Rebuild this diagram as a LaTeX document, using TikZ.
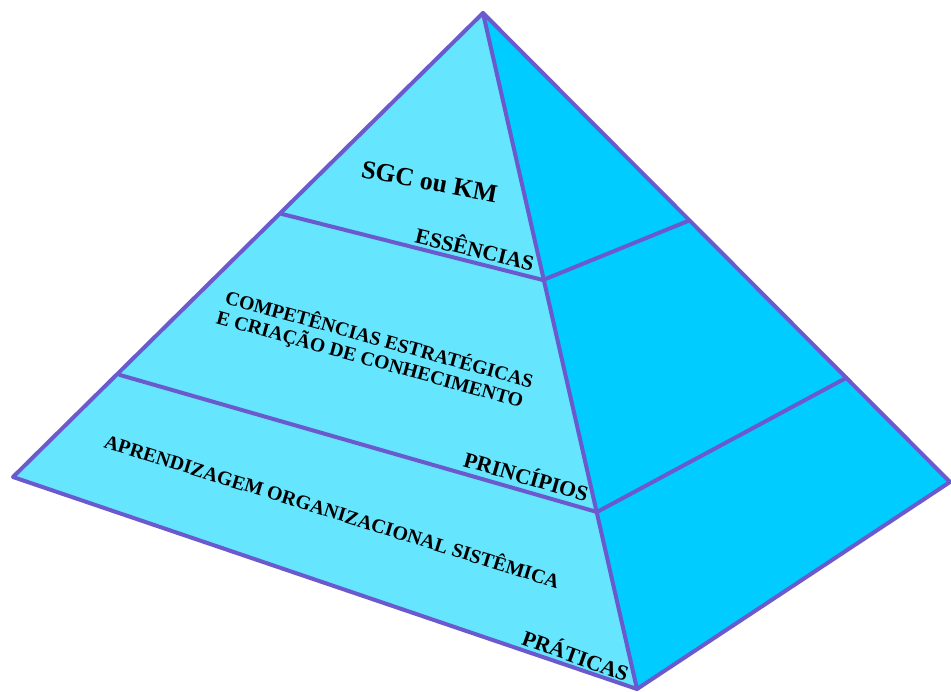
\documentclass[tikz,border=0pt]{standalone}
\usepackage{fontspec}
\setmainfont{Liberation Serif}
\begin{document}
\definecolor{faceL}{RGB}{102,229,255}
\definecolor{faceR}{RGB}{0,204,255}
\definecolor{edge}{RGB}{106,90,205}
\begin{tikzpicture}[x=0.02cm,y=-0.02cm,
  edgeline/.style={draw=edge,line width=0.08cm,line join=round,line cap=round},
  lbl/.style={font=\bfseries,inner sep=0pt,anchor=base}]
\useasboundingbox (0,0) rectangle (951,691);
% corners of the pyramid
\coordinate (apex) at (483,13);
\coordinate (left) at (13,477);
\coordinate (front) at (637,689);
\coordinate (right) at (950,482);
% level divisions
\coordinate (l1) at (282,214);
\coordinate (f1) at (543,280);
\coordinate (r1) at (688,221);
\coordinate (l2) at (120,375);
\coordinate (f2) at (597,512);
\coordinate (r2) at (846,378);
% faces
\fill[faceL] (apex) -- (left) -- (front) -- cycle;
\fill[faceR] (apex) -- (front) -- (right) -- cycle;
% level lines
\draw[edgeline] (l1) -- (f1) -- (r1);
\draw[edgeline] (l2) -- (f2) -- (r2);
% outline
\draw[edgeline] (apex) -- (left) -- (front) -- (right) -- cycle;
\draw[edgeline] (apex) -- (front);
% labels
\node[lbl,font=\bfseries\fontsize{14.7}{16}\selectfont,rotate=-10.6] (sgc) at (428,190) {SGC ou KM};
\node[lbl,font=\bfseries\fontsize{12.4}{14}\selectfont,rotate=-13.5] (ess) at (473,257) {ESSÊNCIAS};
\node[lbl,font=\bfseries\fontsize{11.2}{12.3}\selectfont,rotate=-15.5,align=left,anchor=base west] (comp) at (218,324)
  {COMPETÊNCIAS ESTRATÉGICAS\\\hspace*{-1.7pt}E CRIAÇÃO DE CONHECIMENTO};
\node[lbl,font=\bfseries\fontsize{12.4}{14}\selectfont,rotate=-16] (prin) at (524,484) {PRINCÍPIOS};
\node[lbl,font=\bfseries\fontsize{11.3}{13}\selectfont,rotate=-17.3] (apren) at (330,518) {APRENDIZAGEM ORGANIZACIONAL SISTÊMICA};
\node[lbl,font=\bfseries\fontsize{12.4}{14}\selectfont,rotate=-19.8] (prat) at (573,663) {PRÁTICAS};
\end{tikzpicture}
\end{document}
